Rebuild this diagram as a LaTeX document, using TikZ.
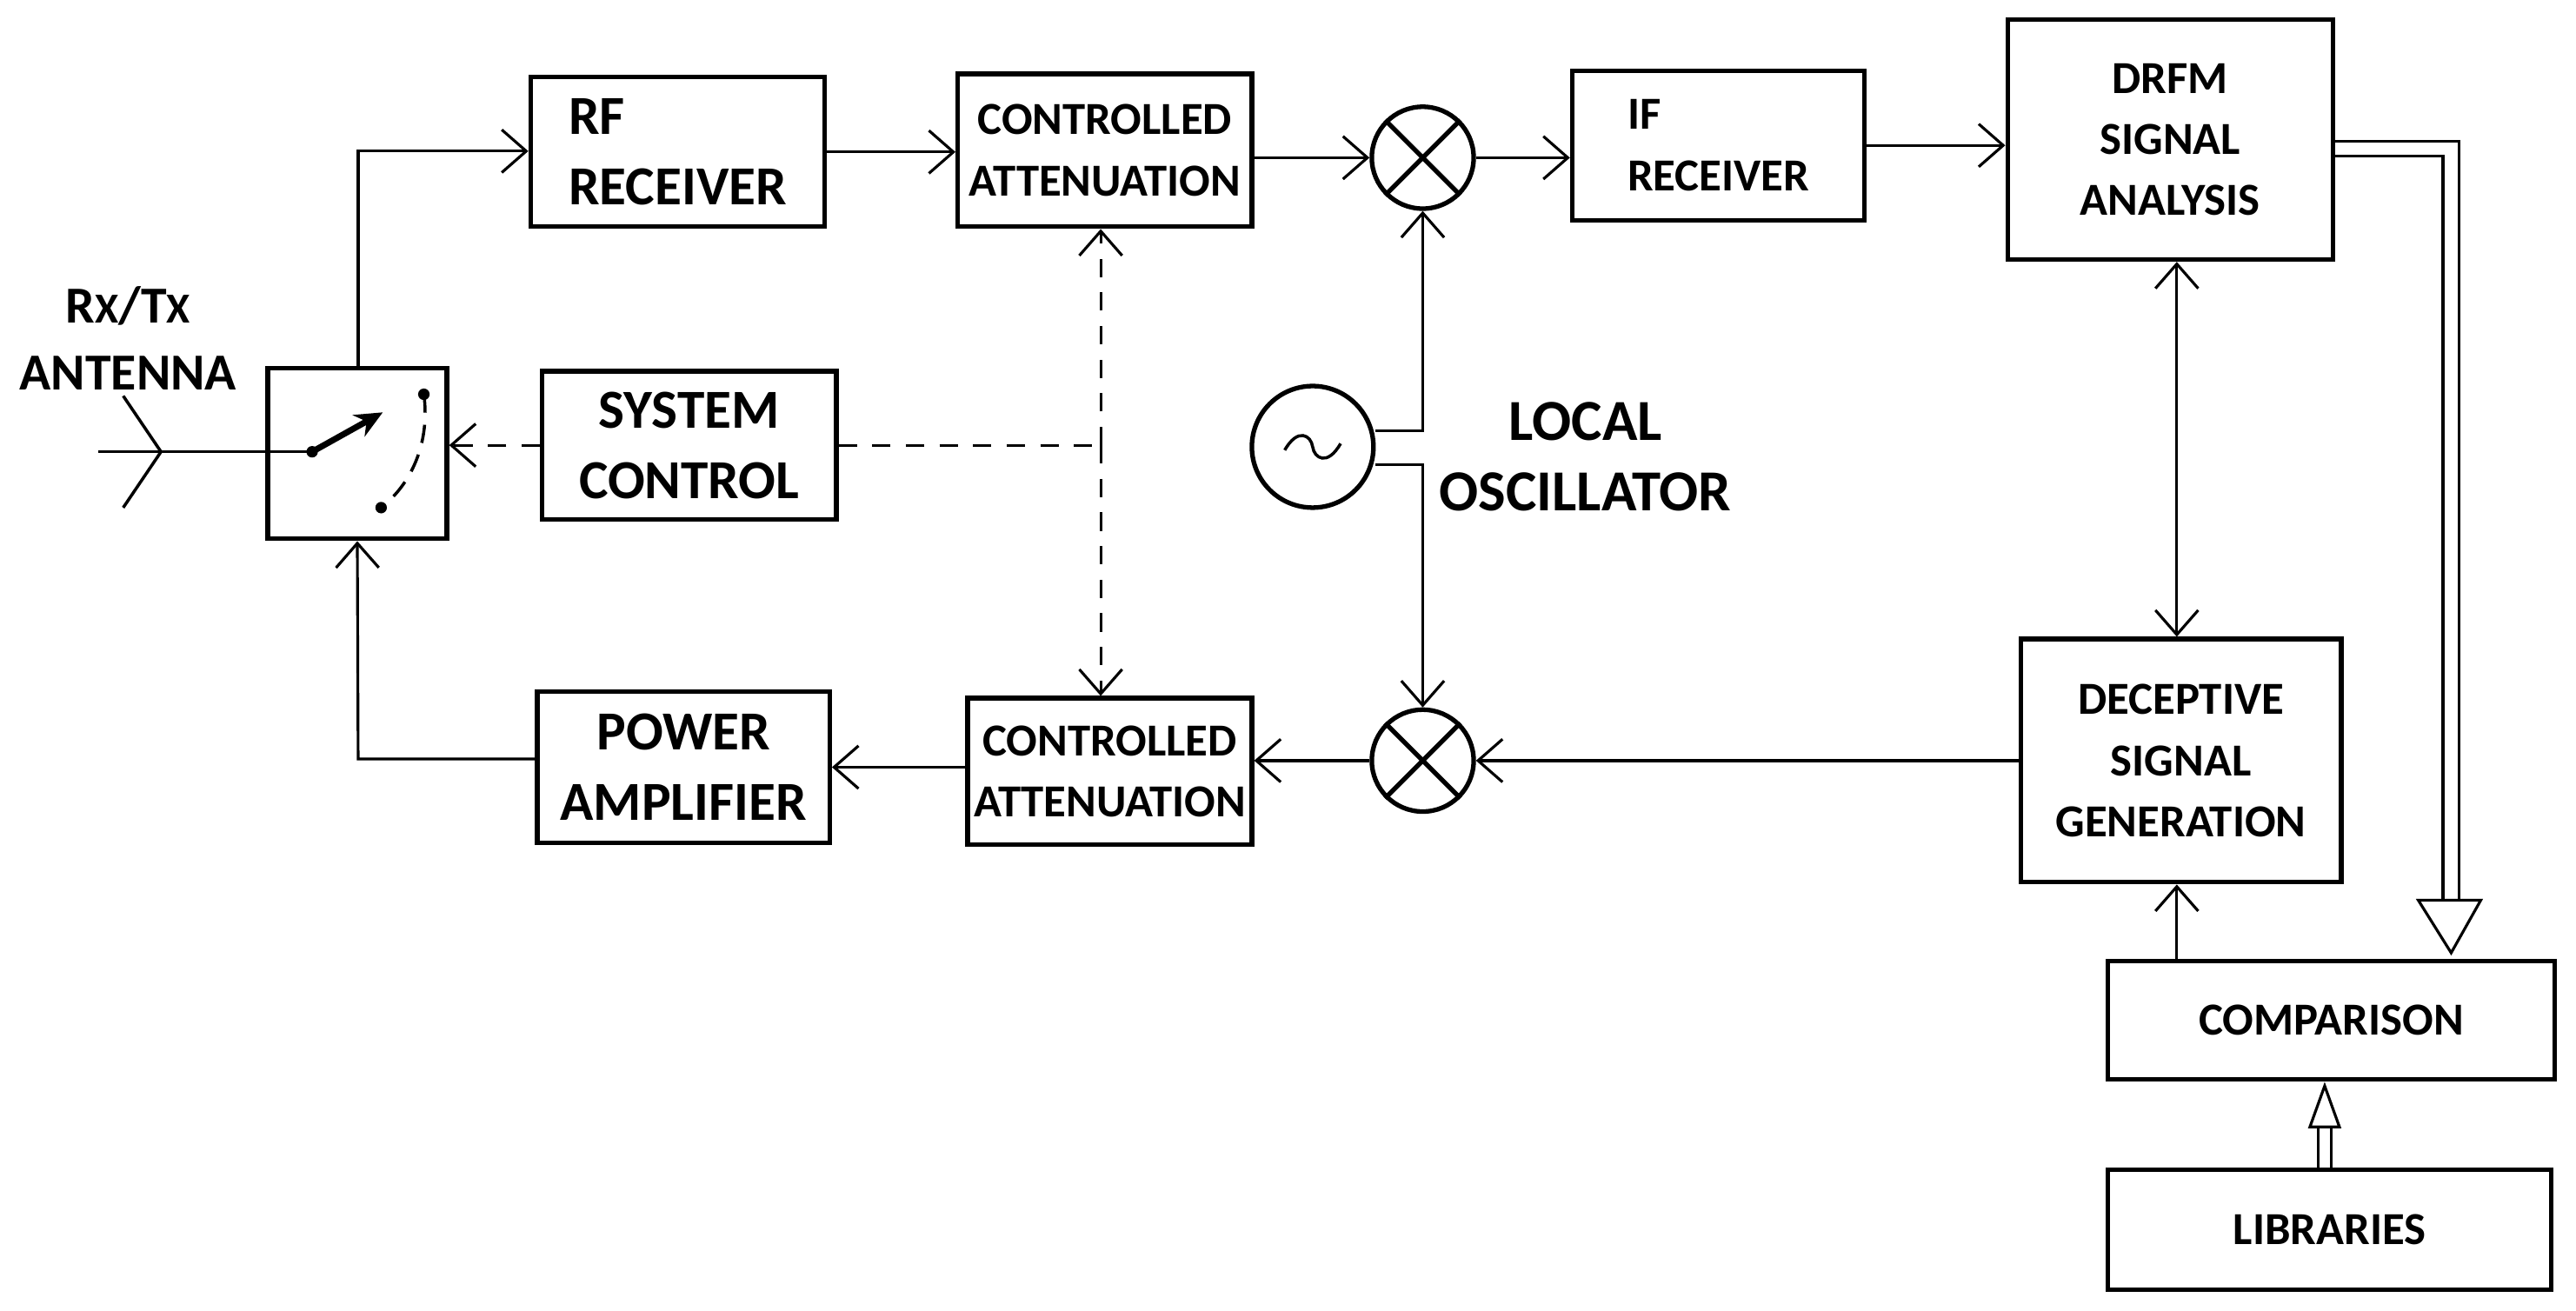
\documentclass[tikz,border=0pt]{standalone}
\usepackage{fontspec}
\setmainfont{Carlito}
\usetikzlibrary{arrows.meta}
\newlength\U \setlength\U{0.5376pt}
\begin{document}
\begin{tikzpicture}[x=0.018897cm,y=-0.018897cm,
 box/.style={draw,line width=1.5pt,inner sep=0pt,font=\bfseries,align=center},
 con/.style={line width=0.9pt,-{Straight Barb[length=8pt,width=14pt,line width=0.9pt]}},
 dcon/.style={con,dash pattern=on 6pt off 5pt},
 mix/.style={draw,circle,line width=1.5pt,minimum size=62\U,inner sep=0pt}]
\useasboundingbox (0,0) rectangle (1568,798);
\fill[white] (0,0) rectangle (1568,798);
% boxes
\node[box,minimum width=179\U,minimum height=91\U,font=\bfseries\fontsize{18}{23}\selectfont,align=left] (rf) at (412.5,92.5) {RF\\RECEIVER};
\node[box,minimum width=179\U,minimum height=93\U,font=\bfseries\fontsize{15}{20}\selectfont] (ca1) at (672.5,91.5) {CONTROLLED\\ATTENUATION};
\node[mix] (m1) at (866,96) {};
\node[box,minimum width=178\U,minimum height=91\U,font=\bfseries\fontsize{15}{20}\selectfont,align=left] (ifr) at (1046,88.5) {IF\\RECEIVER};
\node[box,minimum width=198\U,minimum height=146\U,font=\bfseries\fontsize{15}{20}\selectfont] (drfm) at (1321,85) {DRFM\\SIGNAL\\ANALYSIS};
\node[box,minimum width=109\U,minimum height=104\U] (sw) at (217.5,276) {};
\node[box,minimum width=179\U,minimum height=90\U,font=\bfseries\fontsize{18}{23}\selectfont] (sc) at (419.5,271) {SYSTEM\\CONTROL};
\node[draw,circle,line width=1.5pt,minimum size=74\U,inner sep=0pt] (lo) at (799,272) {};
\node[font=\bfseries\fontsize{19}{23}\selectfont,align=center] (lot) at (965,278) {LOCAL\\OSCILLATOR};
\node[mix] (m2) at (866,463) {};
\node[box,minimum width=173\U,minimum height=89\U,font=\bfseries\fontsize{15}{20}\selectfont] (ca2) at (675.5,469.5) {CONTROLLED\\ATTENUATION};
\node[box,minimum width=178\U,minimum height=92\U,font=\bfseries\fontsize{18}{23}\selectfont] (pa) at (416,467) {POWER\\AMPLIFIER};
\node[box,minimum width=195\U,minimum height=148\U,font=\bfseries\fontsize{15}{20}\selectfont] (dsg) at (1327.5,463) {DECEPTIVE\\SIGNAL\\GENERATION};
\node[box,minimum width=272\U,minimum height=72\U,font=\bfseries\fontsize{15}{20}\selectfont] (cmp) at (1419,621) {COMPARISON};
\node[box,minimum width=270\U,minimum height=73\U,font=\bfseries\fontsize{15}{20}\selectfont] (lib) at (1418,748.5) {LIBRARIES};
\node[font=\bfseries\fontsize{17}{22}\selectfont,align=center] (ant) at (78,206) {R{\fontsize{14}{18}\selectfont X}/T{\fontsize{14}{18}\selectfont X}\\ANTENNA};
% mixer crosses
\foreach \m in {m1,m2}{\draw[line width=1.5pt] (\m.45)--(\m.225) (\m.135)--(\m.315);}
% LO tilde
\draw[line width=1pt] (782,274) .. controls (790,260) and (798,265) .. (799,272) .. controls (800,279) and (808,284) .. (816,270);
% antenna
\coordinate (av) at (98,275);
\draw[line width=1pt] (60,275)--(190,275);
\draw[line width=1pt] (75,241)--(av)--(75,309);
% switch internals
\fill (190,275) circle (3.5);
\fill (258,240) circle (3.5);
\fill (232,309) circle (3.5);
\draw[line width=2pt,-{Stealth[length=9pt,width=8pt]}] (190,275)--(233,251);
\draw[line width=1pt,dash pattern=on 6pt off 4pt] (258,240) .. controls (262,270) and (250,295) .. (232,309);
% connectors
\coordinate (s1) at (218,92);
\draw[con] (sw.north -| s1) -- (s1) -- (rf.west |- s1);
\draw[con] (rf.east) -- (ca1.west |- rf.east);
\draw[con] (ca1.east |- m1) -- (m1.west);
\draw[con] (m1.east) -- (ifr.west |- m1.east);
\draw[con] (ifr.east) -- (drfm.west |- ifr.east);
\coordinate (lu) at (866,262);
\coordinate (ld) at (866,283);
\draw[con] (lo.east |- lu) -- (lu) -- (m1.south);
\draw[con] (lo.east |- ld) -- (ld) -- (m2.north);
\draw[con] (dsg.west |- m2) -- (m2.east);
\draw[con] (m2.west) -- (ca2.east |- m2.west);
\draw[con] (ca2.west |- pa.east) -- (pa.east);
\coordinate (s2) at (218,462);
\draw[con] (pa.west |- s2) -- (s2) -- (sw.south);
\draw[line width=0.9pt,{Straight Barb[length=8pt,width=14pt,line width=0.9pt]}-{Straight Barb[length=8pt,width=14pt,line width=0.9pt]}] (drfm.south -| 1325,0) -- (dsg.north -| 1325,0);
\draw[con] (cmp.north -| 1325,0) -- (dsg.south -| 1325,0);
% dashed control
\coordinate (dj) at (670,271);
\draw[dcon] (sc.west) -- (sw.east |- sc.west);
\draw[line width=0.9pt,dash pattern=on 6pt off 5pt] (sc.east) -- (dj);
\draw[dcon] (dj) -- (ca1.south -| dj);
\draw[dcon] (dj) -- (ca2.north -| dj);
% double hollow arrows
\draw[line width=0.9pt] (drfm.east |- 0,86) -- (1497,86) -- (1497,548);
\draw[line width=0.9pt] (drfm.east |- 0,95) -- (1487,95) -- (1487,548);
\draw[line width=0.9pt,fill=white] (1472,548) -- (1510,548) -- (1492,580) -- cycle;
\draw[line width=0.9pt] (1411,712) -- (1411,686) (1419,712) -- (1419,686);
\draw[line width=0.9pt,fill=white] (1406,686) -- (1424,686) -- (1415,661) -- cycle;
\end{tikzpicture}
\end{document}
